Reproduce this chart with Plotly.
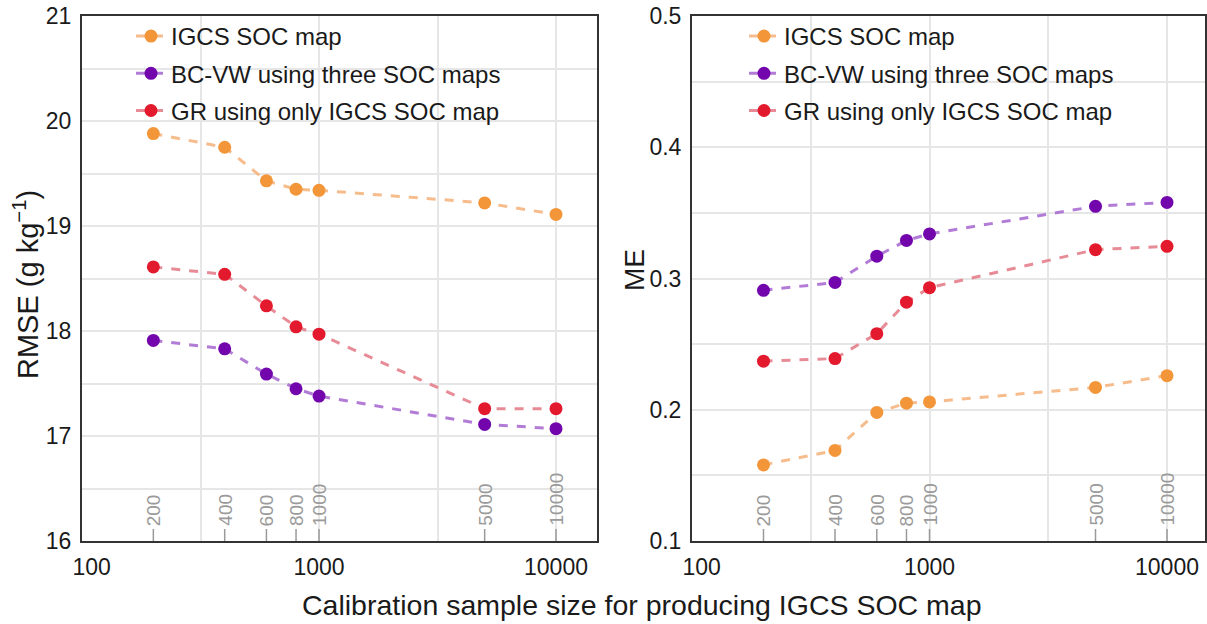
import numpy as np
import plotly.graph_objects as go

sample_sizes = [200, 400, 600, 800, 1000, 5000, 10000]
series_names = ["IGCS SOC map", "BC-VW using three SOC maps", "GR using only IGCS SOC map"]

rmse_igcs = [19.88, 19.75, 19.43, 19.35, 19.34, 19.22, 19.11]
rmse_bcvw = [17.91, 17.83, 17.59, 17.45, 17.38, 17.11, 17.07]
rmse_gr = [18.61, 18.54, 18.24, 18.04, 17.97, 17.26, 17.26]

me_igcs = [0.158, 0.169, 0.198, 0.205, 0.206, 0.217, 0.226]
me_bcvw = [0.291, 0.297, 0.317, 0.329, 0.334, 0.355, 0.358]
me_gr = [0.237, 0.239, 0.258, 0.282, 0.293, 0.322, 0.3245]

x_tickvals = [100, 1000, 10000]
x_ticktext = ["\u00a0\u00a0\u00a0100", "1000", "10000"]

marker_colors = ["#F3963A", "#7206AC", "#E31A2E"]
line_colors = ["rgba(244,176,120,0.85)", "rgba(170,110,210,0.9)", "rgba(228,128,140,0.9)"]

W, H = 1207, 624
FONT = "Liberation Sans, Arial, Helvetica, sans-serif"

fig = go.Figure()

left_vals = [rmse_igcs, rmse_bcvw, rmse_gr]
right_vals = [me_igcs, me_bcvw, me_gr]

for i, name in enumerate(series_names):
    fig.add_trace(go.Scatter(
        x=sample_sizes, y=left_vals[i], name=name, mode="lines+markers",
        line=dict(color=line_colors[i], width=3, dash="dash"),
        marker=dict(color=marker_colors[i], size=13),
        xaxis="x", yaxis="y", legend="legend", legendgroup="l%d" % i,
    ))
for i, name in enumerate(series_names):
    fig.add_trace(go.Scatter(
        x=sample_sizes, y=right_vals[i], name=name, mode="lines+markers",
        line=dict(color=line_colors[i], width=3, dash="dash"),
        marker=dict(color=marker_colors[i], size=13),
        xaxis="x2", yaxis="y2", legend="legend2", legendgroup="r%d" % i,
    ))

top_px, bot_px = 16, 541
ydom = [(H - bot_px) / H, (H - top_px) / H]
xdom1 = [82 / W, 597 / W]
xdom2 = [692 / W, 1205 / W]

common_x = dict(
    type="log", tickvals=x_tickvals, ticktext=x_ticktext,
    showgrid=True, gridcolor="#e6e6e6", gridwidth=1.5,
    minor=dict(tickvals=[316.23, 3162.3], showgrid=True, gridcolor="#e6e6e6", gridwidth=1.5, ticks=""),
    showline=True, linecolor="#333333", linewidth=2, mirror=True,
    ticks="", tickfont=dict(family=FONT, size=23, color="#1a1a1a"),
    zeroline=False, automargin=False, ticklabelstandoff=4,
)
common_y = dict(
    showgrid=True, gridcolor="#e6e6e6", gridwidth=1.5,
    showline=True, linecolor="#333333", linewidth=2, mirror=True,
    ticks="", tickfont=dict(family=FONT, size=23, color="#1a1a1a"),
    zeroline=False, ticklabelstandoff=4, automargin=False,
)

fig.update_layout(
    width=W, height=H, margin=dict(l=0, r=0, t=0, b=0, autoexpand=False),
    paper_bgcolor="white", plot_bgcolor="white",
    font=dict(family=FONT, color="#1a1a1a"),
    xaxis=dict(domain=xdom1, range=[2, 4.173], anchor="y", **common_x),
    yaxis=dict(domain=ydom, range=[16, 21], anchor="x", tickvals=[16, 17, 18, 19, 20, 21],
               minor=dict(dtick=0.5, showgrid=True, gridcolor="#e6e6e6", gridwidth=1.5), **common_y),
    xaxis2=dict(domain=xdom2, range=[2, 4.16], anchor="y2", **common_x),
    yaxis2=dict(domain=ydom, range=[0.1, 0.5], anchor="x2", tickvals=[0.1, 0.2, 0.3, 0.4, 0.5],
                ticktext=["0.1", "0.2", "0.3", "0.4", "0.5"],
                minor=dict(dtick=0.05, showgrid=True, gridcolor="#e6e6e6", gridwidth=1.5), **common_y),
    legend=dict(x=131 / W, y=1 - 14 / H, xanchor="left", yanchor="top", bgcolor="rgba(0,0,0,0)",
                font=dict(family=FONT, size=24, color="#1a1a1a"), tracegroupgap=3, traceorder="grouped"),
    legend2=dict(x=744 / W, y=1 - 14 / H, xanchor="left", yanchor="top", bgcolor="rgba(0,0,0,0)",
                 font=dict(family=FONT, size=24, color="#1a1a1a"), tracegroupgap=3, traceorder="grouped"),
    showlegend=True,
)

plot_h = bot_px - top_px
tick_frac = 12 / plot_h
annotations = []
shapes = []
for xa, ya in [("x", "y"), ("x2", "y2")]:
    for v in sample_sizes:
        annotations.append(dict(
            x=np.log10(v), xref=xa, y=0, yref=ya + " domain", text=str(v), showarrow=False,
            textangle=-90, xanchor="center", yanchor="bottom", yshift=13,
            font=dict(family=FONT, size=19, color="#9a9a9a"),
        ))
        shapes.append(dict(
            type="line", xref=xa, yref=ya + " domain", x0=v, x1=v,
            y0=0, y1=tick_frac, line=dict(color="#9a9a9a", width=1.5),
        ))

annotations.append(dict(text="Calibration sample size for producing IGCS SOC map", x=642 / W, y=1 - 605 / H,
                        xref="paper", yref="paper", showarrow=False, xanchor="center", yanchor="middle",
                        font=dict(family=FONT, size=28.5, color="#1a1a1a")))
annotations.append(dict(text="RMSE (g kg<sup>−1</sup>)", x=26 / W, y=1 - 285 / H,
                        xref="paper", yref="paper", showarrow=False, textangle=-90,
                        xanchor="center", yanchor="middle",
                        font=dict(family=FONT, size=29, color="#1a1a1a")))
annotations.append(dict(text="ME", x=634 / W, y=1 - 270 / H,
                        xref="paper", yref="paper", showarrow=False, textangle=-90,
                        xanchor="center", yanchor="middle",
                        font=dict(family=FONT, size=28, color="#1a1a1a")))

fig.update_layout(annotations=annotations, shapes=shapes)

fig.write_html("out.html")
